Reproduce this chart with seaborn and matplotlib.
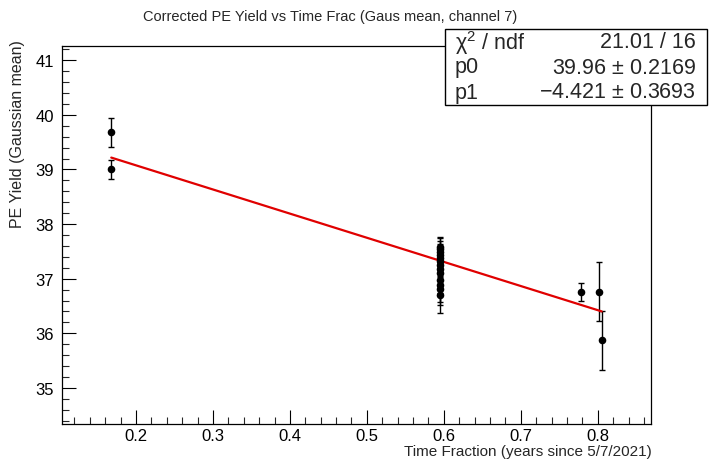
import matplotlib
matplotlib.use("Agg")
import matplotlib.pyplot as plt
import seaborn as sns
import numpy as np
import pandas as pd
from matplotlib.patches import Rectangle
from matplotlib.ticker import MultipleLocator

# ---- data ----
time_frac = [0.168, 0.168,
             0.595, 0.595, 0.595, 0.595, 0.595, 0.595, 0.595,
             0.595, 0.595, 0.595, 0.595, 0.595, 0.595,
             0.778, 0.802, 0.805]
pe_yield = [39.68, 39.00,
            37.58, 37.54, 37.49, 37.44, 37.38, 37.32, 37.25,
            37.17, 37.10, 36.98, 36.88, 36.82, 36.70,
            36.76, 36.76, 35.87]
pe_err = [0.26, 0.18,
          0.18, 0.2, 0.2, 0.2, 0.2, 0.2, 0.2,
          0.2, 0.2, 0.25, 0.3, 0.3, 0.33,
          0.17, 0.54, 0.54]
fit_p0 = 39.96
fit_p1 = -4.421
stats_labels = ["$\\mathrm{\\chi}^2$ / ndf", "p0", "p1"]
stats_values = ["21.01 / 16", "39.96 $\\pm$ 0.2169", "\u22124.421 $\\pm$ 0.3693"]

df = pd.DataFrame({"x": time_frac, "y": pe_yield, "err": pe_err})
fx = [min(time_frac), max(time_frac)]
fit_df = pd.DataFrame({"x": fx, "y": [fit_p0 + fit_p1 * v for v in fx]})

sns.set_theme(style="white")
plt.rcParams["font.family"] = ["Liberation Sans", "DejaVu Sans"]
plt.rcParams["mathtext.fontset"] = "custom"
plt.rcParams["mathtext.rm"] = "Liberation Sans"
plt.rcParams["mathtext.it"] = "Liberation Sans:italic"

fig = plt.figure(figsize=(7.1, 4.6), dpi=100)
ax = fig.add_axes([62 / 710, 1 - 425 / 460, (651 - 62) / 710, (425 - 47) / 460])

ax.errorbar(df["x"], df["y"], yerr=df["err"], fmt="none", ecolor="black",
            elinewidth=1, capsize=2.5, capthick=1, zorder=2)
sns.lineplot(data=fit_df, x="x", y="y", ax=ax, color="#e00000", linewidth=1.6, zorder=3)
sns.scatterplot(data=df, x="x", y="y", ax=ax, color="black", s=30, edgecolor="black",
                linewidth=0, zorder=4)

ax.set_xlim(0.104, 0.869)
ax.set_ylim(34.34, 41.26)
ax.set_xticks([0.2, 0.3, 0.4, 0.5, 0.6, 0.7, 0.8])
ax.set_xticklabels(["0.2", "0.3", "0.4", "0.5", "0.6", "0.7", "0.8"], fontsize=12)
ax.set_yticks([35, 36, 37, 38, 39, 40, 41])
ax.set_yticklabels(["35", "36", "37", "38", "39", "40", "41"], fontsize=12)
ax.xaxis.set_minor_locator(MultipleLocator(0.02))
ax.yaxis.set_minor_locator(MultipleLocator(0.2))
ax.tick_params(axis="both", which="major", direction="in", length=10, width=0.8,
               colors="black", bottom=True, left=True, top=False, right=False)
ax.tick_params(axis="both", which="minor", direction="in", length=5, width=0.8,
               bottom=True, left=True, top=False, right=False)
ax.tick_params(axis="x", pad=3)
ax.tick_params(axis="y", pad=6)
for s in ax.spines.values():
    s.set_color("black")
    s.set_linewidth(0.9)

ax.set_xlabel("")
ax.set_ylabel("")
fig.text(652 / 710, 1 - 452 / 460, "Time Fraction (years since 5/7/2021)",
         ha="right", va="center", fontsize=11)
fig.text(18 / 710, 1 - 40 / 460, "PE Yield (Gaussian mean)", rotation=90,
         ha="center", va="top", fontsize=11.5)

fig.text(0.465, 1 - 17 / 460, "Corrected PE Yield vs Time Frac (Gaus mean, channel 7)",
         ha="center", va="center", fontsize=10.5)

# stats box
bx0, bx1, by0, by1 = 445, 707, 30, 106
fig.patches.append(Rectangle((bx0 / 710, 1 - by1 / 460), (bx1 - bx0) / 710, (by1 - by0) / 460,
                             transform=fig.transFigure, facecolor="white",
                             edgecolor="black", linewidth=1.0, zorder=10))
rows_y = [43, 68, 93]
for lab, val, ry in zip(stats_labels, stats_values, rows_y):
    fig.text(455 / 710, 1 - ry / 460, lab, ha="left", va="center", fontsize=15.5, zorder=11)
    fig.text(696 / 710, 1 - ry / 460, val, ha="right", va="center", fontsize=15.5, zorder=11)

fig.savefig("out.png", dpi=100)
